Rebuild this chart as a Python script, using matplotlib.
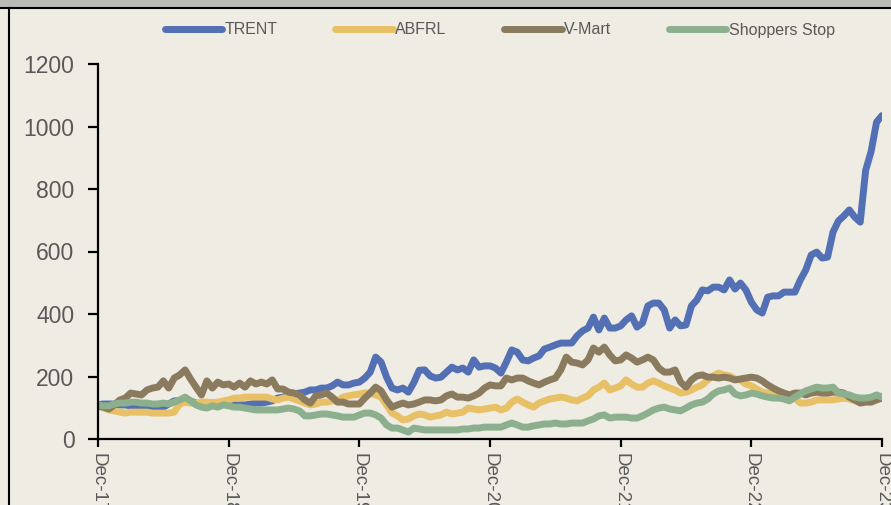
import numpy as np
import matplotlib
matplotlib.use("Agg")
import matplotlib.pyplot as plt
from matplotlib.patches import Rectangle
from matplotlib.lines import Line2D

plt.rcParams['font.family'] = ['Liberation Sans', 'DejaVu Sans']

tick_labels = ["Dec-17", "Dec-18", "Dec-19", "Dec-20", "Dec-21", "Dec-22", "Dec-23"]
series_names = ["TRENT", "ABFRL", "V-Mart", "Shoppers Stop"]

# semi-monthly readings, Dec-17 .. Dec-23 (145 points)
trent = [110,112,112,112,109,109,106,106,102,102,99,99,102,112,122,122,125,122,115,112,112,115,112,112,112,
         109,109,109,112,115,115,118,122,131,134,141,144,147,150,157,157,163,163,170,182,173,173,179,182,
         195,214,262,246,198,163,157,163,150,180,220,221,202,195,198,214,230,221,227,214,253,230,234,234,
         227,211,246,285,278,253,250,259,266,288,294,301,307,307,307,330,346,355,390,349,387,355,355,362,
         381,394,358,371,426,435,435,413,355,381,362,365,426,445,477,474,486,486,477,509,480,499,477,438,
         413,403,454,458,458,470,470,470,509,541,589,598,579,582,662,698,714,733,710,694,860,920,1014,1035]

abfrl = [109,99,93,90,86,83,86,86,86,86,83,83,83,83,86,112,118,115,115,118,118,115,118,122,125,
         131,131,134,134,134,134,134,128,125,131,134,128,122,115,109,112,118,118,122,122,134,138,141,144,
         147,147,141,134,109,83,74,61,64,74,80,77,70,74,77,86,80,83,86,99,96,93,96,99,
         102,93,99,118,128,118,109,102,115,122,128,131,134,131,125,122,131,138,157,166,179,157,163,170,
         189,176,166,166,179,186,179,170,163,157,147,150,157,166,173,189,202,211,205,202,192,189,176,170,
         160,150,147,147,144,141,138,131,115,115,118,125,125,125,125,128,131,128,122,118,122,125,131,138]

vmart = [105,102,96,109,125,131,147,144,141,157,163,166,186,163,195,205,221,192,166,141,186,163,182,173,176,
         166,179,166,186,176,182,176,189,160,160,150,147,141,125,115,138,141,147,134,118,118,112,112,112,
         131,147,166,154,125,102,109,115,109,112,118,125,125,122,125,138,144,134,134,131,138,147,163,173,
         170,170,195,189,195,195,186,179,173,182,189,195,221,262,246,243,237,253,291,278,294,269,250,253,
         269,259,246,253,262,253,227,214,214,221,182,166,189,202,205,198,198,195,198,195,189,192,195,198,
         195,186,173,163,154,147,141,147,147,141,147,150,147,147,150,150,147,134,125,115,118,118,125,131]

shoppers = [109,106,106,112,115,115,118,118,115,115,112,112,115,112,118,125,134,122,109,102,99,106,102,109,106,
            102,102,99,96,93,93,93,93,93,96,99,96,90,74,74,77,80,80,77,74,70,70,70,77,
            83,83,77,67,45,35,35,29,22,35,32,29,29,29,29,29,29,29,32,32,35,35,38,38,
            38,38,45,51,45,38,38,42,45,48,48,51,48,48,51,51,51,58,64,74,77,67,70,70,
            70,67,67,74,83,93,99,102,96,93,90,99,109,115,118,128,144,154,157,163,144,138,141,147,
            144,138,134,131,131,128,122,134,144,154,160,166,163,163,166,147,144,141,134,131,131,134,141,134]

colors = ["#5470B4", "#E8C066", "#8A7A5E", "#8CAF8E"]
bg = "#EFECE4"

fig = plt.figure(figsize=(8.91, 5.05), dpi=100, facecolor=bg)
ax = fig.add_axes([98/891, 66/505, 784/891, 375/505])
ax.set_facecolor(bg)

x = np.arange(len(trent))
for vals, name, c in zip([trent, abfrl, vmart, shoppers], series_names, colors):
    ax.plot(x, vals, color=c, lw=5, label=name, solid_capstyle='round', solid_joinstyle='round')

ax.set_xlim(0, len(trent) - 1)
ax.set_ylim(0, 1200)
ax.set_yticks(np.arange(0, 1201, 200))
ax.set_xticks(np.arange(0, len(trent), 24))
ax.set_xticklabels(tick_labels, rotation=270, ha='center', va='top')

for s in ['top', 'right']:
    ax.spines[s].set_visible(False)
for s in ['left', 'bottom']:
    ax.spines[s].set_linewidth(1.6)
    ax.spines[s].set_color('black')
ax.tick_params(axis='y', direction='out', length=7, width=1.6, pad=10, labelsize=16.5, labelcolor='#595959')
ax.tick_params(axis='x', direction='out', length=6, width=1.6, pad=4, labelsize=13.5, labelcolor='#595959')

leg = fig.legend(loc='center', bbox_to_anchor=(0.561, 1 - 30/505), ncol=4, frameon=False,
                 fontsize=11.5, handlelength=3.6, handletextpad=0.15, columnspacing=3.6,
                 labelcolor='#595959')
for h in leg.get_lines():
    h.set_linewidth(5)
    h.set_solid_capstyle('round')

# frame decorations (top band and borders)
fig.add_artist(Rectangle((0, 1 - 7/505), 1, 7/505, transform=fig.transFigure, color='#B9B9B5', zorder=0))
fig.add_artist(Line2D([0, 1], [1 - 8/505, 1 - 8/505], transform=fig.transFigure, color='black', lw=1.5))
fig.add_artist(Line2D([9/891, 9/891], [0, 1 - 8/505], transform=fig.transFigure, color='black', lw=1.5))

fig.savefig("out.png", dpi=100, facecolor=bg)
